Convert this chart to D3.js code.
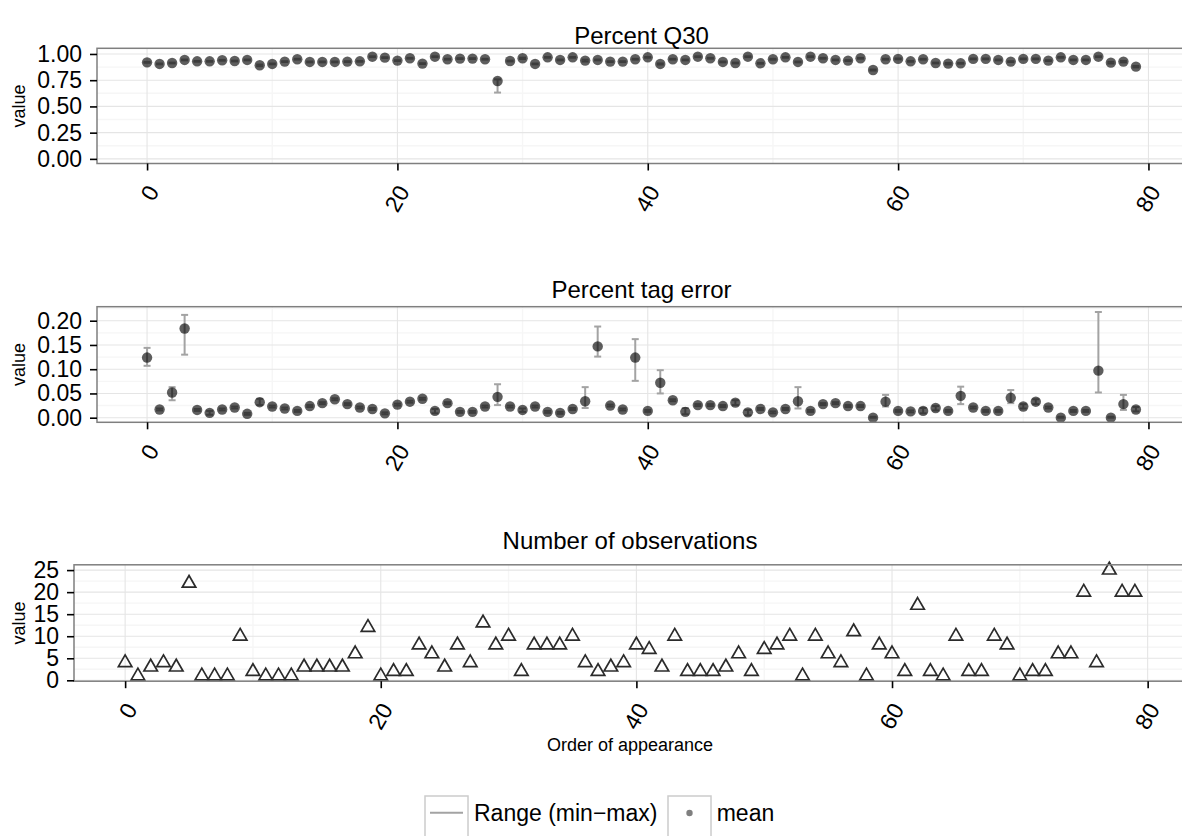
<!DOCTYPE html>
<html><head><meta charset="utf-8">
<script src="https://cdn.jsdelivr.net/npm/d3@7"></script>
<style>
html,body{margin:0;padding:0;background:#fff;}
svg{display:block;}
text{font-family:"Liberation Sans",Arial,Helvetica,sans-serif;}
</style>
</head><body>
<svg id="chart" width="1182" height="836"></svg>
<script>
// ---- data ----
const xTicks = [0, 20, 40, 60, 80];
const xMinor = [10, 30, 50, 70];

const q30Mean = [0.920,0.905,0.914,0.943,0.930,0.930,0.940,0.933,0.943,0.892,
                 0.905,0.927,0.950,0.924,0.924,0.924,0.927,0.930,0.974,0.965,
                 0.937,0.959,0.908,0.974,0.950,0.956,0.956,0.950,0.742,0.933,
                 0.959,0.905,0.968,0.943,0.968,0.937,0.943,0.927,0.927,0.950,
                 0.968,0.905,0.950,0.943,0.974,0.959,0.924,0.914,0.974,0.911,
                 0.950,0.968,0.924,0.974,0.959,0.943,0.937,0.959,0.847,0.950,
                 0.953,0.930,0.950,0.914,0.908,0.911,0.953,0.953,0.943,0.927,
                 0.953,0.953,0.937,0.968,0.943,0.943,0.974,0.917,0.927,0.879];
const q30Min  = [0.916,0.901,0.910,0.939,0.926,0.926,0.936,0.929,0.939,0.884,
                 0.901,0.923,0.946,0.920,0.920,0.920,0.923,0.926,0.970,0.961,
                 0.933,0.955,0.904,0.970,0.946,0.952,0.952,0.946,0.632,0.929,
                 0.952,0.901,0.964,0.939,0.964,0.928,0.939,0.923,0.923,0.946,
                 0.964,0.899,0.946,0.939,0.970,0.955,0.920,0.910,0.970,0.907,
                 0.946,0.964,0.920,0.970,0.955,0.939,0.933,0.955,0.842,0.946,
                 0.949,0.926,0.946,0.910,0.900,0.907,0.949,0.949,0.939,0.923,
                 0.949,0.949,0.933,0.964,0.939,0.939,0.970,0.909,0.920,0.872];
const q30Max  = [0.924,0.909,0.918,0.947,0.934,0.934,0.944,0.937,0.947,0.899,
                 0.909,0.931,0.954,0.928,0.928,0.928,0.931,0.934,0.978,0.969,
                 0.941,0.963,0.912,0.978,0.954,0.960,0.960,0.954,0.758,0.937,
                 0.965,0.909,0.972,0.947,0.972,0.946,0.947,0.931,0.931,0.954,
                 0.972,0.910,0.954,0.947,0.978,0.963,0.928,0.918,0.978,0.915,
                 0.954,0.972,0.928,0.978,0.963,0.947,0.941,0.963,0.852,0.954,
                 0.957,0.934,0.954,0.918,0.915,0.915,0.957,0.957,0.947,0.931,
                 0.957,0.957,0.941,0.972,0.947,0.947,0.978,0.925,0.934,0.886];

const tagMean = [0.124,0.017,0.052,0.184,0.016,0.010,0.017,0.021,0.008,0.032,
                 0.023,0.019,0.014,0.024,0.030,0.038,0.028,0.021,0.018,0.009,
                 0.027,0.033,0.039,0.014,0.030,0.012,0.012,0.023,0.043,0.023,
                 0.016,0.023,0.012,0.010,0.018,0.034,0.147,0.025,0.017,0.124,
                 0.014,0.072,0.036,0.012,0.026,0.026,0.024,0.031,0.011,0.018,
                 0.011,0.018,0.034,0.014,0.028,0.030,0.024,0.024,0.000,0.033,
                 0.014,0.013,0.014,0.020,0.014,0.045,0.021,0.014,0.014,0.041,
                 0.023,0.033,0.021,0.000,0.014,0.014,0.097,0.000,0.028,0.017];
const tagMin  = [0.107,0.015,0.036,0.130,0.014,0.006,0.015,0.019,0.006,0.026,
                 0.021,0.017,0.012,0.022,0.028,0.036,0.026,0.019,0.016,0.007,
                 0.025,0.031,0.037,0.009,0.028,0.010,0.010,0.021,0.026,0.021,
                 0.012,0.021,0.010,0.008,0.016,0.020,0.126,0.023,0.015,0.076,
                 0.012,0.050,0.034,0.007,0.024,0.024,0.022,0.026,0.005,0.016,
                 0.009,0.016,0.019,0.012,0.026,0.028,0.022,0.022,0.000,0.023,
                 0.012,0.011,0.009,0.015,0.012,0.028,0.019,0.012,0.012,0.030,
                 0.019,0.028,0.019,0.000,0.012,0.012,0.052,0.000,0.016,0.013];
const tagMax  = [0.144,0.019,0.063,0.212,0.018,0.014,0.019,0.023,0.010,0.039,
                 0.025,0.021,0.016,0.026,0.032,0.040,0.030,0.023,0.020,0.011,
                 0.029,0.035,0.041,0.018,0.032,0.014,0.014,0.025,0.069,0.025,
                 0.019,0.025,0.014,0.012,0.020,0.063,0.188,0.027,0.019,0.162,
                 0.016,0.098,0.038,0.020,0.028,0.028,0.026,0.036,0.016,0.020,
                 0.013,0.020,0.063,0.016,0.030,0.032,0.026,0.026,0.002,0.047,
                 0.016,0.015,0.020,0.024,0.016,0.064,0.023,0.016,0.016,0.057,
                 0.028,0.038,0.023,0.002,0.016,0.016,0.218,0.002,0.047,0.022];

const obsCount = [4,1,3,4,3,22,1,1,1,10, 2,1,1,1,3,3,3,3,6,12,
                  1,2,2,8,6,3,8,4,13,8, 10,2,8,8,8,10,4,2,3,4,
                  8,7,3,10,2,2,2,3,6,2, 7,8,10,1,10,6,4,11,1,8,
                  6,2,17,2,1,10,2,2,10,8, 1,2,2,6,6,20,4,25,20,20];

const q30Ticks = [0, 0.25, 0.5, 0.75, 1];
const q30Minor = [0.125, 0.375, 0.625, 0.875];
const tagTicks = [0, 0.05, 0.10, 0.15, 0.20];
const tagMinor = [0.025, 0.075, 0.125, 0.175, 0.225];
const obsTicks = [0, 5, 10, 15, 20, 25];
const obsMinor = [2.5, 7.5, 12.5, 17.5, 22.5];

const titles = ["Percent Q30", "Percent tag error", "Number of observations"];
const legendLabels = ["Range (min\u2212max)", "mean"];

// ---- drawing ----
const svg = d3.select("#chart");
const FONT_TICK = 23, FONT_AXT = 18, FONT_TITLE = 24;

function panel(cfg) {
  const x = d3.scaleLinear().domain([-4, 83]).range([cfg.left, cfg.right]);
  const y = d3.scaleLinear().domain(cfg.yDomain).range([cfg.bottom, cfg.top]);
  const g = svg.append("g");

  // gridlines (minor drawn first, thicker but paler, as in the reference)
  g.selectAll(".vmin").data(xMinor).join("line")
    .attr("x1", d => x(d)).attr("x2", d => x(d)).attr("y1", cfg.top).attr("y2", cfg.bottom)
    .attr("stroke", "#f6f6f6").attr("stroke-width", 1.4);
  g.selectAll(".hmin").data(cfg.yMinor).join("line")
    .attr("x1", cfg.left).attr("x2", cfg.right).attr("y1", d => y(d)).attr("y2", d => y(d))
    .attr("stroke", "#f6f6f6").attr("stroke-width", 1.4);
  g.selectAll(".vmaj").data(xTicks).join("line")
    .attr("x1", d => x(d)).attr("x2", d => x(d)).attr("y1", cfg.top).attr("y2", cfg.bottom)
    .attr("stroke", "#e5e5e5").attr("stroke-width", 1.1);
  g.selectAll(".hmaj").data(cfg.yTicks).join("line")
    .attr("x1", cfg.left).attr("x2", cfg.right).attr("y1", d => y(d)).attr("y2", d => y(d))
    .attr("stroke", "#e5e5e5").attr("stroke-width", 1.1);

  // marks
  cfg.draw(g, x, y);

  // border
  g.append("rect").attr("x", cfg.left).attr("y", cfg.top)
    .attr("width", cfg.right - cfg.left).attr("height", cfg.bottom - cfg.top)
    .attr("fill", "none").attr("stroke", "#7f7f7f").attr("stroke-width", 1.5);

  // y axis
  const ya = g.append("g").attr("transform", `translate(${cfg.left},0)`)
    .call(d3.axisLeft(y).tickValues(cfg.yTicks).tickSize(7).tickPadding(8).tickFormat(cfg.fmt));
  ya.select(".domain").remove();
  ya.selectAll(".tick line").attr("stroke", "#000").attr("stroke-width", 1.6);
  ya.selectAll(".tick text").attr("font-size", FONT_TICK).attr("fill", "#000")
    .attr("font-family", "Liberation Sans, Arial, sans-serif");

  // x axis
  const xa = g.append("g").attr("transform", `translate(0,${cfg.bottom})`)
    .call(d3.axisBottom(x).tickValues(xTicks).tickSize(7).tickFormat(d3.format("d")));
  xa.select(".domain").remove();
  xa.selectAll(".tick line").attr("stroke", "#000").attr("stroke-width", 1.6);
  xa.selectAll(".tick text").attr("font-size", FONT_TICK).attr("fill", "#000")
    .attr("font-family", "Liberation Sans, Arial, sans-serif")
    .attr("y", null).attr("dy", null)
    .attr("text-anchor", "end").attr("dominant-baseline", "central")
    .attr("transform", "translate(5.5,24) rotate(-60)");

  // y title
  svg.append("text").attr("transform", `translate(25,${(cfg.top + cfg.bottom) / 2}) rotate(-90)`)
    .attr("text-anchor", "middle").attr("font-size", FONT_AXT).text("value");

  // panel title (centred over the panel)
  svg.append("text").attr("x", (cfg.left + cfg.right) / 2).attr("y", cfg.titleY)
    .attr("text-anchor", "middle").attr("font-size", FONT_TITLE).text(cfg.title);
}

function rangePoints(lo, hi, mean) {
  return (g, x, y) => {
    const eb = g.append("g").attr("stroke", "#a3a3a3").attr("stroke-width", 2);
    mean.forEach((m, i) => {
      eb.append("line").attr("x1", x(i)).attr("x2", x(i)).attr("y1", y(lo[i])).attr("y2", y(hi[i]));
      eb.append("line").attr("x1", x(i) - 3.5).attr("x2", x(i) + 3.5).attr("y1", y(lo[i])).attr("y2", y(lo[i]));
      eb.append("line").attr("x1", x(i) - 3.5).attr("x2", x(i) + 3.5).attr("y1", y(hi[i])).attr("y2", y(hi[i]));
    });
    g.append("g").selectAll("circle").data(mean).join("circle")
      .attr("cx", (d, i) => x(i)).attr("cy", d => y(d)).attr("r", 5.2)
      .attr("fill", "#000").attr("fill-opacity", 0.63);
  };
}

panel({
  left: 97, right: 1186, top: 48.3, bottom: 163.5,
  yDomain: [-0.044, 1.054], yTicks: q30Ticks, yMinor: q30Minor, fmt: d3.format(".2f"),
  title: titles[0], titleY: 44,
  draw: rangePoints(q30Min, q30Max, q30Mean)
});

panel({
  left: 97, right: 1186, top: 306.7, bottom: 422.3,
  yDomain: [-0.0095, 0.2289], yTicks: tagTicks, yMinor: tagMinor, fmt: d3.format(".2f"),
  title: titles[1], titleY: 298,
  draw: rangePoints(tagMin, tagMax, tagMean)
});

panel({
  left: 74, right: 1186, top: 564.8, bottom: 681.2,
  yDomain: [-0.2, 26.2], yTicks: obsTicks, yMinor: obsMinor, fmt: d3.format("d"),
  title: titles[2], titleY: 549,
  draw: (g, x, y) => {
    const r = 7.8, xc = r * Math.sqrt(3) / 2;
    g.append("g").selectAll("path").data(obsCount).join("path")
      .attr("transform", (d, i) => `translate(${x(i)},${y(d)})`)
      .attr("d", `M0,${-r}L${xc},${r / 2}L${-xc},${r / 2}Z`)
      .attr("fill", "none").attr("stroke", "#2b2b2b").attr("stroke-width", 1.7)
      .attr("stroke-linejoin", "miter");
  }
});

// x axis title
svg.append("text").attr("x", 630).attr("y", 751).attr("text-anchor", "middle")
  .attr("font-size", FONT_AXT).text("Order of appearance");

// legend
const lg = svg.append("g");
const keyTop = 796, keySize = 43;
lg.append("rect").attr("x", 425).attr("y", keyTop).attr("width", keySize).attr("height", keySize)
  .attr("fill", "#fff").attr("stroke", "#cccccc").attr("stroke-width", 1.5);
lg.append("line").attr("x1", 430).attr("x2", 463).attr("y1", 812.7).attr("y2", 812.7)
  .attr("stroke", "#a3a3a3").attr("stroke-width", 2);
lg.append("text").attr("x", 474).attr("y", 813).attr("dominant-baseline", "central")
  .attr("font-size", FONT_TICK).text(legendLabels[0]);
lg.append("rect").attr("x", 668).attr("y", keyTop).attr("width", keySize).attr("height", keySize)
  .attr("fill", "#fff").attr("stroke", "#cccccc").attr("stroke-width", 1.5);
lg.append("circle").attr("cx", 689.5).attr("cy", 813).attr("r", 3.2)
  .attr("fill", "#000").attr("fill-opacity", 0.5);
lg.append("text").attr("x", 716.7).attr("y", 813).attr("dominant-baseline", "central")
  .attr("font-size", FONT_TICK).text(legendLabels[1]);
</script>
</body></html>
